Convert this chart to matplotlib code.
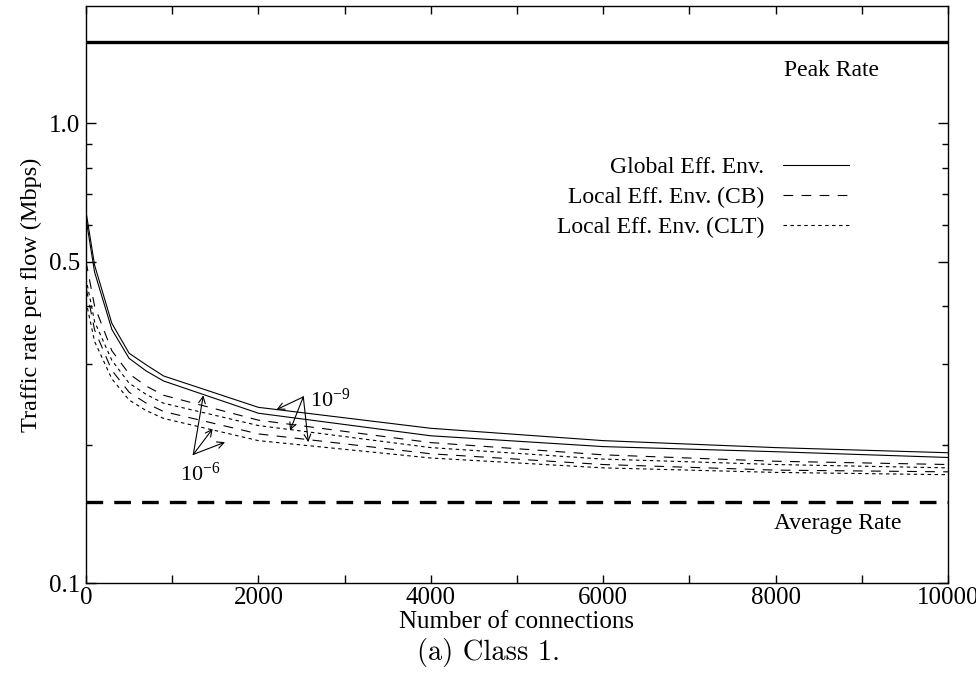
import matplotlib
matplotlib.use("Agg")
import matplotlib.pyplot as plt
from matplotlib.ticker import FixedLocator, FixedFormatter, NullFormatter

plt.rcParams["font.family"] = ["Liberation Serif", "DejaVu Serif"]
plt.rcParams["mathtext.fontset"] = "custom"
plt.rcParams["mathtext.rm"] = "Liberation Serif"
plt.rcParams["lines.scale_dashes"] = False

# connections (x) and traffic rate per flow in Mbps
conns = [0, 100, 300, 500, 700, 900, 2000, 4000, 6000, 8000, 10000]
global_e9 = [0.642, 0.491, 0.367, 0.316, 0.298, 0.282, 0.241, 0.217, 0.204, 0.197, 0.192]
global_e6 = [0.620, 0.474, 0.356, 0.308, 0.289, 0.275, 0.234, 0.209, 0.198, 0.193, 0.1875]
cb_e9 = [0.500, 0.400, 0.320, 0.285, 0.268, 0.256, 0.226, 0.202, 0.190, 0.184, 0.181]
clt_e9 = [0.460, 0.370, 0.305, 0.272, 0.257, 0.246, 0.220, 0.197, 0.186, 0.181, 0.178]
cb_e6 = [0.440, 0.355, 0.290, 0.260, 0.246, 0.236, 0.211, 0.191, 0.181, 0.176, 0.1745]
clt_e6 = [0.410, 0.335, 0.278, 0.250, 0.237, 0.228, 0.204, 0.187, 0.178, 0.174, 0.172]

PEAK_RATE = 1.5
AVG_RATE = 0.15

# annotation arrows: (tail, [heads]) in data units
arrows_e9 = ((2521, 0.2539), [(2211, 0.2383), (2367, 0.2147), (2579, 0.2024)])
arrows_e6 = ((1245, 0.1904), [(1361, 0.2559), (1470, 0.2165), (1613, 0.2024)])

CB_DASH = (0, (7, 6))
CLT_DASH = (0, (2.5, 2.5))

fig = plt.figure(figsize=(9.76, 6.89), dpi=100)
ax = fig.add_axes([0.0881, 0.1538, 0.8832, 0.8379])

lw = 0.8
ax.plot(conns, global_e9, color="black", lw=lw, label="Global Eff. Env.")
ax.plot(conns, global_e6, color="black", lw=lw)
ax.plot(conns, cb_e9, color="black", lw=lw, ls=CB_DASH, label="Local Eff. Env. (CB)")
ax.plot(conns, cb_e6, color="black", lw=lw, ls=CB_DASH)
ax.plot(conns, clt_e9, color="black", lw=lw, ls=CLT_DASH, label="Local Eff. Env. (CLT)")
ax.plot(conns, clt_e6, color="black", lw=lw, ls=CLT_DASH)

ax.axhline(PEAK_RATE, color="black", lw=2.4)
ax.axhline(AVG_RATE, color="black", lw=2.4, ls=(0, (12, 8)))

ax.set_yscale("log")
ax.set_xlim(0, 10000)
ax.set_ylim(0.1, 1.8)

ax.xaxis.set_major_locator(FixedLocator([0, 2000, 4000, 6000, 8000, 10000]))
ax.xaxis.set_minor_locator(FixedLocator([1000, 3000, 5000, 7000, 9000]))
ax.yaxis.set_major_locator(FixedLocator([0.1, 0.5, 1.0]))
ax.yaxis.set_major_formatter(FixedFormatter(["0.1", "0.5", "1.0"]))
ax.yaxis.set_minor_locator(FixedLocator([0.2, 0.3, 0.4, 0.6, 0.7, 0.8, 0.9]))
ax.yaxis.set_minor_formatter(NullFormatter())

ax.tick_params(which="both", direction="in", top=True, right=True, labelsize=18, width=1)
ax.tick_params(axis="x", which="both", length=6, pad=3)
ax.tick_params(axis="y", which="major", length=7, pad=4)
ax.tick_params(axis="y", which="minor", length=4)
for s in ax.spines.values():
    s.set_linewidth(1.0)

ax.set_xlabel("Number of connections", fontsize=18, labelpad=1)
ax.set_ylabel("Traffic rate per flow (Mbps)", fontsize=17.5, labelpad=5)

ax.text(8654, 1.3, "Peak Rate", fontsize=17, ha="center", va="center")
ax.text(8724, 0.135, "Average Rate", fontsize=17, ha="center", va="center")

leg = ax.legend(loc="upper right", bbox_to_anchor=(0.91, 0.775), frameon=False,
                markerfirst=False, fontsize=17, handlelength=2.8, labelspacing=0.35,
                handletextpad=0.8)

for (tail, heads), label, off in ((arrows_e9, r"$\mathregular{10^{-9}}$", (80, -0.004)),
                                  (arrows_e6, r"$\mathregular{10^{-6}}$", (-150, -0.018))):
    for h in heads:
        ax.annotate("", xy=h, xytext=tail,
                    arrowprops=dict(arrowstyle="->", lw=0.8, color="black",
                                    shrinkA=0, shrinkB=0, mutation_scale=12))
    ax.text(tail[0] + off[0], tail[1] + off[1], label, fontsize=16,
            ha="left", va="center")

fig.text(0.501, 0.053, "(a) Class 1.", fontsize=20.5, family="cmr10",
         ha="center", va="center")

fig.savefig("out.png", dpi=100)
